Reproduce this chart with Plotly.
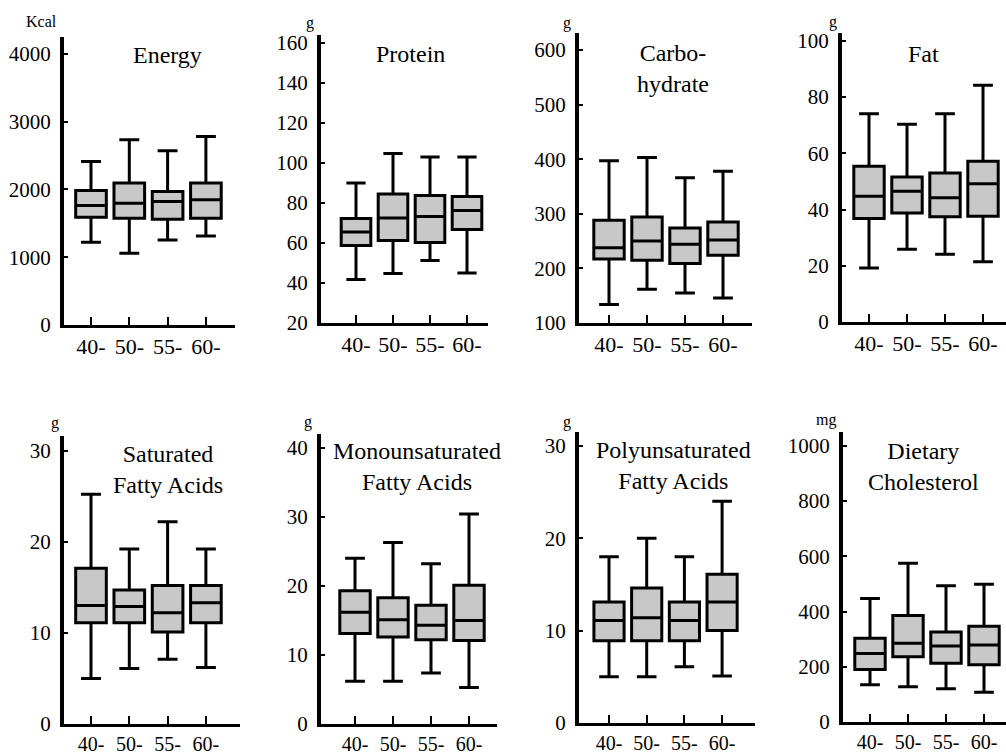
import plotly.graph_objects as go

W, H = 1006, 756

age_groups = ["40-", "50-", "55-", "60-"]

energy_low = [1222, 1059, 1256, 1315]
energy_q1 = [1591, 1576, 1562, 1576]
energy_med = [1764, 1798, 1823, 1847]
energy_q3 = [1985, 2094, 1970, 2094]
energy_high = [2414, 2734, 2571, 2783]

protein_low = [41.7, 44.7, 51.2, 45.0]
protein_q1 = [58.7, 61.3, 60.3, 66.7]
protein_med = [65.5, 72.5, 73.3, 76.3]
protein_q3 = [72.2, 84.5, 83.8, 83.3]
protein_high = [90.0, 104.7, 103.0, 103.0]

carb_low = [134, 162, 155, 146]
carb_q1 = [217, 215, 209, 224]
carb_med = [238, 250, 244, 252]
carb_q3 = [288, 294, 274, 285]
carb_high = [397, 403, 366, 378]

fat_low = [19.2, 25.9, 24.1, 21.4]
fat_q1 = [36.8, 38.8, 37.4, 37.6]
fat_med = [44.7, 46.5, 44.2, 49.2]
fat_q3 = [55.4, 51.6, 53.0, 57.2]
fat_high = [74.1, 70.3, 74.1, 84.2]

sfa_low = [5.0, 6.1, 7.1, 6.2]
sfa_q1 = [11.1, 11.1, 10.1, 11.1]
sfa_med = [13.0, 12.9, 12.2, 13.3]
sfa_q3 = [17.1, 14.7, 15.2, 15.2]
sfa_high = [25.2, 19.2, 22.2, 19.2]

mufa_low = [6.2, 6.2, 7.4, 5.3]
mufa_q1 = [13.1, 12.6, 12.2, 12.1]
mufa_med = [16.2, 15.1, 14.3, 15.0]
mufa_q3 = [19.3, 18.3, 17.2, 20.1]
mufa_high = [24.0, 26.3, 23.2, 30.4]

pufa_low = [5.0, 5.0, 6.1, 5.1]
pufa_q1 = [8.9, 8.9, 8.9, 10.0]
pufa_med = [11.1, 11.4, 11.1, 13.1]
pufa_q3 = [13.1, 14.6, 13.1, 16.1]
pufa_high = [18.0, 20.0, 18.0, 24.0]

chol_low = [135, 128, 120, 108]
chol_q1 = [190, 236, 213, 207]
chol_med = [248, 285, 275, 279]
chol_q3 = [303, 386, 326, 347]
chol_high = [447, 575, 493, 499]

titles = ["Energy", "Protein", "Carbo-<br>hydrate", "Fat",
          "Saturated<br>Fatty Acids", "Monounsaturated<br>Fatty Acids",
          "Polyunsaturated<br>Fatty Acids", "Dietary<br>Cholesterol"]
units = ["Kcal", "g", "g", "g", "g", "g", "g", "mg"]
y_ticks = [[0, 1000, 2000, 3000, 4000],
           [20, 40, 60, 80, 100, 120, 140, 160],
           [100, 200, 300, 400, 500, 600],
           [0, 20, 40, 60, 80, 100],
           [0, 10, 20, 30],
           [0, 10, 20, 30, 40],
           [0, 10, 20, 30],
           [0, 200, 400, 600, 800, 1000]]
y_ranges = [[0, 4250], [20, 164], [100, 631], [0, 102.8],
            [0, 31.6], [0, 42], [0, 31.5], [0, 1050]]

stats = [
    (energy_low, energy_q1, energy_med, energy_q3, energy_high),
    (protein_low, protein_q1, protein_med, protein_q3, protein_high),
    (carb_low, carb_q1, carb_med, carb_q3, carb_high),
    (fat_low, fat_q1, fat_med, fat_q3, fat_high),
    (sfa_low, sfa_q1, sfa_med, sfa_q3, sfa_high),
    (mufa_low, mufa_q1, mufa_med, mufa_q3, mufa_high),
    (pufa_low, pufa_q1, pufa_med, pufa_q3, pufa_high),
    (chol_low, chol_q1, chol_med, chol_q3, chol_high),
]

# layout geometry (pixels): y-axis x, first category x, spacing, right end, bottom y, top y
geom = [
    (64, 91, 38.3, 235, 325, 37),
    (321, 356, 37.0, 488, 323, 35),
    (579, 609, 38.0, 752, 323, 33),
    (842, 869, 38.0, 1006, 322, 33),
    (64, 91, 38.3, 240, 724, 436),
    (321, 355, 38.0, 497, 724, 434),
    (579, 609, 37.7, 755, 723, 432),
    (843, 870, 38.0, 1006, 722, 432),
]
xtick_size = [22, 22, 22, 22, 20, 20, 20, 20]
unit_pos = [(41, 21), (310, 23), (567, 23), (833, 22),
            (55, 423), (308, 422), (567, 422), (826, 420)]
title_pos = [(167, 55), (410, 54), (673, 68), (923, 54),
             (168, 469), (417, 467), (673, 465), (923, 466)]

FONT = "Liberation Serif, Times New Roman, serif"
fig = go.Figure()
annotations = []
for i in range(8):
    n = i + 1
    sfx = "" if n == 1 else str(n)
    lo, q1, md, q3, hi = stats[i]
    fig.add_trace(go.Box(
        x=age_groups, q1=q1, median=md, q3=q3, lowerfence=lo, upperfence=hi,
        xaxis="x" + sfx, yaxis="y" + sfx,
        fillcolor="#c8c8c8", line=dict(color="black", width=3),
        width=0.8, whiskerwidth=0.65, boxpoints=False, showlegend=False,
        hoverinfo="skip",
    ))
    axx, c0, sp, right, bot, top = geom[i]
    r0 = -(c0 - axx) / sp
    r1 = r0 + (right - axx) / sp
    fig.layout["xaxis" + sfx] = dict(
        domain=[axx / W, right / W], range=[r0, r1], anchor="y" + sfx,
        type="category", showline=True, linewidth=3, linecolor="black",
        ticks="inside", ticklen=8, tickwidth=2, tickcolor="black",
        showgrid=False, zeroline=False, fixedrange=True, automargin=False,
        tickfont=dict(family=FONT, size=xtick_size[i], color="black"),
        ticklabelstandoff=0,
    )
    fig.layout["yaxis" + sfx] = dict(
        domain=[1 - bot / H, 1 - top / H], range=y_ranges[i], anchor="x" + sfx,
        tickmode="array", tickvals=y_ticks[i],
        showline=True, linewidth=4, linecolor="black",
        ticks="inside", ticklen=4, tickwidth=2, tickcolor="black",
        showgrid=False, zeroline=False, fixedrange=True, automargin=False,
        tickfont=dict(family=FONT, size=21, color="black"),
        ticklabelstandoff=5,
    )
    ux, uy = unit_pos[i]
    annotations.append(dict(text=units[i], x=ux / W, y=1 - uy / H, xref="paper", yref="paper",
                            showarrow=False, xanchor="center", yanchor="middle",
                            font=dict(family=FONT, size=16, color="black")))
    tx, ty = title_pos[i]
    annotations.append(dict(text=titles[i], x=tx / W, y=1 - ty / H, xref="paper", yref="paper",
                            showarrow=False, xanchor="center", yanchor="middle",
                            font=dict(family=FONT, size=24, color="black")))

fig.update_layout(
    template="none",
    font=dict(family=FONT, color="black"),
    width=W, height=H, margin=dict(l=0, r=0, t=0, b=0, autoexpand=False),
    paper_bgcolor="white", plot_bgcolor="white",
    annotations=annotations,
)
fig.write_html("out.html", config={"displayModeBar": False},
               post_script="document.body.style.margin='0';")
